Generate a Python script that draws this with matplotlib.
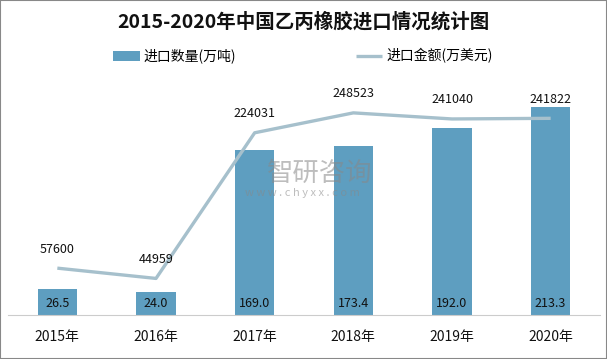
import matplotlib.pyplot as plt
from matplotlib.patches import Rectangle

plt.rcParams['font.family'] = ['Noto Sans CJK SC', 'DejaVu Sans']

years = ['2015年', '2016年', '2017年', '2018年', '2019年', '2020年']
volume = [26.5, 24.0, 169.0, 173.4, 192.0, 213.3]
amount = [57600, 44959, 224031, 248523, 241040, 241822]

bar_color = '#5E9EC0'
line_color = '#A6C0CC'

fig = plt.figure(figsize=(6.07, 3.59), dpi=100)
ax = fig.add_axes([8 / 607, 1 - 315 / 359, 592 / 607, 244 / 359])
ax2 = ax.twinx()

x = list(range(len(years)))
bars = ax.bar(x, volume, width=0.4, color=bar_color, label='进口数量(万吨)', zorder=2)
line, = ax2.plot(x, amount, color=line_color, lw=2.4, label='进口金额(万美元)',
                 solid_capstyle='butt', zorder=3)

ax.set_xlim(-0.5, 5.5)
ax.set_ylim(0, 250)
ax2.set_ylim(0, 300000)

for xi, v in zip(x, volume):
    ax.text(xi, 5, f'{v:.1f}', ha='center', va='bottom', fontsize=9, color='#111111')
for xi, v in zip(x, amount):
    ax2.annotate(str(v), (xi, v), xytext=(0, 9), textcoords='offset points',
                 ha='center', va='bottom', fontsize=9, color='#111111')

for a in (ax, ax2):
    for s in ['top', 'left', 'right']:
        a.spines[s].set_visible(False)
    a.set_yticks([])
ax.spines['bottom'].set_color('#CCCCCC')
ax2.spines['bottom'].set_visible(False)
ax.set_xticks(x)
ax.set_xticklabels(years, fontsize=10, color='#111111')
ax.tick_params(axis='x', length=0, pad=11)

# watermark
fig.text(320 / 607, 1 - 173 / 359, '智研咨询', fontsize=19, color='#888888', alpha=0.55,
         ha='center', va='center', zorder=5)
fig.text(302 / 607, 1 - 193 / 359, 'w w w . c h y x x . c o m', fontsize=8, color='#888888',
         alpha=0.55, ha='center', va='center', zorder=5)

fig.suptitle('2015-2020年中国乙丙橡胶进口情况统计图', y=1 - 22 / 359, va='center',
             fontsize=14, fontweight='bold', color='#111111')

fig.legend(handles=[bars, line], labels=['进口数量(万吨)', '进口金额(万美元)'],
           loc='center', bbox_to_anchor=(303 / 607, 1 - 56 / 359), ncol=2, frameon=False,
           fontsize=10, columnspacing=8.6, handlelength=1.9, handletextpad=0.3)

fig.patches.append(Rectangle((0, 0), 1, 1, transform=fig.transFigure, fill=False,
                             edgecolor='#888888', lw=1.5))

fig.savefig('out.png', dpi=100)
